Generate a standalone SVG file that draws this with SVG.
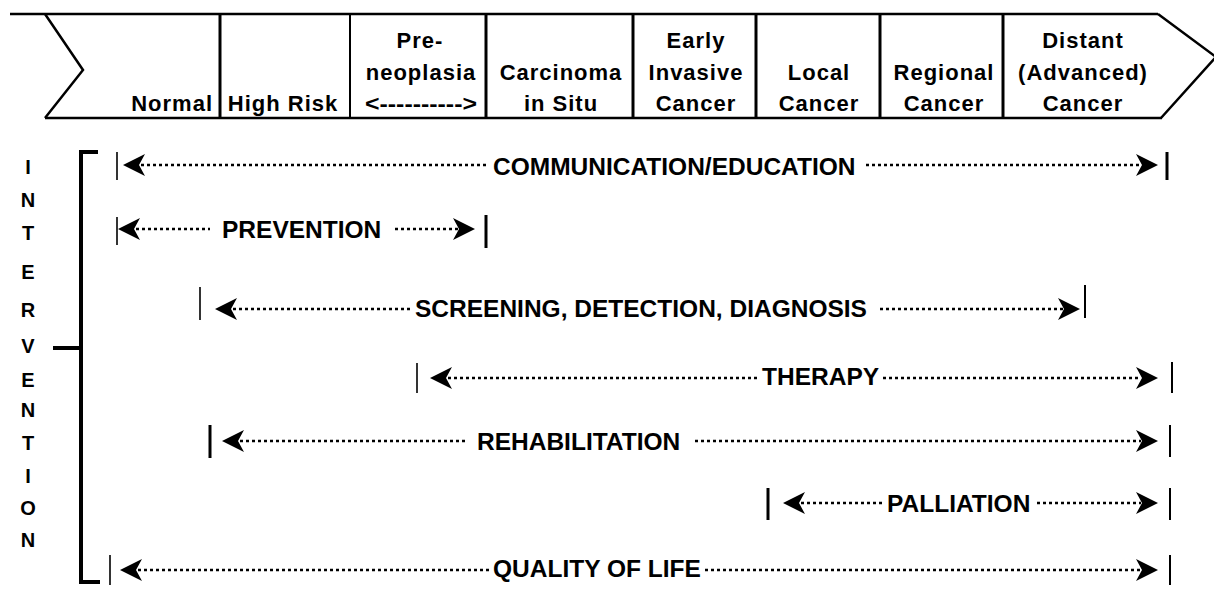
<svg xmlns="http://www.w3.org/2000/svg" xmlns:xlink="http://www.w3.org/1999/xlink" width="1214" height="607" viewBox="0 0 1214 607">
<style>
  .hd { font-family: "Liberation Sans", Arial, sans-serif; font-weight: bold; font-size: 22px; letter-spacing: 1px; fill: #000; text-anchor: middle; }
  .lb { font-family: "Liberation Sans", Arial, sans-serif; font-weight: bold; font-size: 24.5px; fill: #000; }
  .vl { font-family: "Liberation Sans", Arial, sans-serif; font-weight: bold; font-size: 20px; fill: #000; text-anchor: middle; }
  .frame { fill: none; stroke: #000; stroke-width: 2.5; }
  .div { stroke: #000; stroke-width: 3; }
  .divt { stroke: #000; stroke-width: 2; }
  .dot { stroke: #000; stroke-width: 2.5; stroke-dasharray: 3 3; fill: none; }
  .bar { stroke: #000; stroke-width: 3; }
  .bart { stroke: #000; stroke-width: 1.6; }
  .brk { fill: none; stroke: #000; stroke-width: 4; }
</style>
<defs>
  <path id="ahR" d="M0,0 L-22,-11 L-16,0 L-22,11 Z" fill="#000"/>
  <path id="ahL" d="M0,0 L22,-11 L16,0 L22,11 Z" fill="#000"/>
</defs>
<rect width="1214" height="607" fill="#fff"/>

<!-- Stage header -->
<g id="header">
  <g id="frame">
    <line class="frame" x1="10" y1="14" x2="1158" y2="14"/>
    <line class="frame" x1="45" y1="118" x2="1162" y2="118"/>
    <polyline class="frame" points="45,14 83,70 45,118"/>
    <polyline class="frame" points="1158,14 1216,57 1161,118"/>
  </g>
  <g id="stage-normal">
    <text class="hd" x="213" y="111" style="text-anchor:end">Normal</text>
  </g>
  <g id="stage-highrisk">
    <line class="div" x1="220" y1="14" x2="220" y2="118"/>
    <text class="hd" x="283" y="111">High Risk</text>
  </g>
  <g id="stage-preneoplasia">
    <line class="divt" x1="350" y1="14" x2="350" y2="118"/>
    <text class="hd" x="420" y="48">Pre-</text>
    <text class="hd" x="421" y="80">neoplasia</text>
    <text class="hd" x="421" y="111" textLength="112" lengthAdjust="spacingAndGlyphs" style="letter-spacing:0">&lt;----------&gt;</text>
  </g>
  <g id="stage-cis">
    <line class="div" x1="486" y1="14" x2="486" y2="118"/>
    <text class="hd" x="561" y="80">Carcinoma</text>
    <text class="hd" x="561" y="111">in Situ</text>
  </g>
  <g id="stage-early">
    <line class="div" x1="633" y1="14" x2="633" y2="118"/>
    <text class="hd" x="696" y="48">Early</text>
    <text class="hd" x="696" y="80">Invasive</text>
    <text class="hd" x="696" y="111">Cancer</text>
  </g>
  <g id="stage-local">
    <line class="div" x1="756" y1="14" x2="756" y2="118"/>
    <text class="hd" x="819" y="80">Local</text>
    <text class="hd" x="819" y="111">Cancer</text>
  </g>
  <g id="stage-regional">
    <line class="div" x1="880" y1="14" x2="880" y2="118"/>
    <text class="hd" x="944" y="80">Regional</text>
    <text class="hd" x="944" y="111">Cancer</text>
  </g>
  <g id="stage-distant">
    <line class="div" x1="1003" y1="14" x2="1003" y2="118"/>
    <text class="hd" x="1083" y="48">Distant</text>
    <text class="hd" x="1083" y="80">(Advanced)</text>
    <text class="hd" x="1083" y="111">Cancer</text>
  </g>
</g>

<!-- Intervention label and bracket -->
<g id="intervention">
  <text class="vl" x="28" y="174">I</text>
  <text class="vl" x="28" y="207">N</text>
  <text class="vl" x="28" y="240">T</text>
  <text class="vl" x="28" y="279">E</text>
  <text class="vl" x="28" y="317">R</text>
  <text class="vl" x="28" y="353">V</text>
  <text class="vl" x="28" y="387">E</text>
  <text class="vl" x="28" y="417">N</text>
  <text class="vl" x="28" y="450">T</text>
  <text class="vl" x="28" y="483">I</text>
  <text class="vl" x="28" y="515">O</text>
  <text class="vl" x="28" y="547">N</text>
  <polyline class="brk" points="98,152 81,152 81,582 100,582"/>
  <line class="brk" x1="53" y1="348" x2="81" y2="348"/>
</g>

<!-- Intervention spans -->
<g id="connectors">
  <g id="communication">
    <line class="bart" x1="117" y1="152" x2="117" y2="180"/>
    <use xlink:href="#ahL" href="#ahL" x="123" y="165"/>
    <line class="dot" x1="141" y1="165" x2="488" y2="165"/>
    <text class="lb" x="493" y="175">COMMUNICATION/EDUCATION</text>
    <line class="dot" x1="866" y1="165" x2="1140" y2="165"/>
    <use xlink:href="#ahR" href="#ahR" x="1158" y="165"/>
    <line class="bar" x1="1167" y1="152" x2="1167" y2="180"/>
  </g>
  <g id="prevention">
    <line class="bart" x1="117" y1="217" x2="117" y2="245"/>
    <use xlink:href="#ahL" href="#ahL" x="118" y="229"/>
    <line class="dot" x1="136" y1="229" x2="210" y2="229"/>
    <text class="lb" x="222" y="238">PREVENTION</text>
    <line class="dot" x1="395" y1="229" x2="458" y2="229"/>
    <use xlink:href="#ahR" href="#ahR" x="475" y="229"/>
    <line class="bar" x1="486" y1="215" x2="486" y2="248"/>
  </g>
  <g id="screening">
    <line class="bart" x1="200" y1="287" x2="200" y2="320"/>
    <use xlink:href="#ahL" href="#ahL" x="215" y="309"/>
    <line class="dot" x1="233" y1="309" x2="413" y2="309"/>
    <text class="lb" x="415" y="317">SCREENING, DETECTION, DIAGNOSIS</text>
    <line class="dot" x1="880" y1="309" x2="1063" y2="309"/>
    <use xlink:href="#ahR" href="#ahR" x="1080" y="309"/>
    <line class="divt" x1="1085" y1="285" x2="1085" y2="318"/>
  </g>
  <g id="therapy">
    <line class="bart" x1="417" y1="363" x2="417" y2="393"/>
    <use xlink:href="#ahL" href="#ahL" x="430" y="378"/>
    <line class="dot" x1="448" y1="378" x2="760" y2="378"/>
    <text class="lb" x="762" y="385">THERAPY</text>
    <line class="dot" x1="883" y1="378" x2="1141" y2="378"/>
    <use xlink:href="#ahR" href="#ahR" x="1158" y="378"/>
    <line class="divt" x1="1172" y1="362" x2="1172" y2="393"/>
  </g>
  <g id="rehabilitation">
    <line class="bar" x1="210" y1="425" x2="210" y2="458"/>
    <use xlink:href="#ahL" href="#ahL" x="222" y="441"/>
    <line class="dot" x1="240" y1="441" x2="467" y2="441"/>
    <text class="lb" x="477" y="450">REHABILITATION</text>
    <line class="dot" x1="695" y1="441" x2="1141" y2="441"/>
    <use xlink:href="#ahR" href="#ahR" x="1158" y="441"/>
    <line class="divt" x1="1170" y1="425" x2="1170" y2="457"/>
  </g>
  <g id="palliation">
    <line class="bar" x1="768" y1="488" x2="768" y2="520"/>
    <use xlink:href="#ahL" href="#ahL" x="783" y="503"/>
    <line class="dot" x1="801" y1="503" x2="885" y2="503"/>
    <text class="lb" x="887" y="512">PALLIATION</text>
    <line class="dot" x1="1037" y1="503" x2="1141" y2="503"/>
    <use xlink:href="#ahR" href="#ahR" x="1158" y="503"/>
    <line class="divt" x1="1170" y1="488" x2="1170" y2="520"/>
  </g>
  <g id="quality">
    <line class="bart" x1="110" y1="555" x2="110" y2="585"/>
    <use xlink:href="#ahL" href="#ahL" x="120" y="570"/>
    <line class="dot" x1="138" y1="570" x2="491" y2="570"/>
    <text class="lb" x="493" y="577">QUALITY OF LIFE</text>
    <line class="dot" x1="705" y1="570" x2="1141" y2="570"/>
    <use xlink:href="#ahR" href="#ahR" x="1158" y="570"/>
    <line class="divt" x1="1170" y1="555" x2="1170" y2="585"/>
  </g>
</g>
</svg>
